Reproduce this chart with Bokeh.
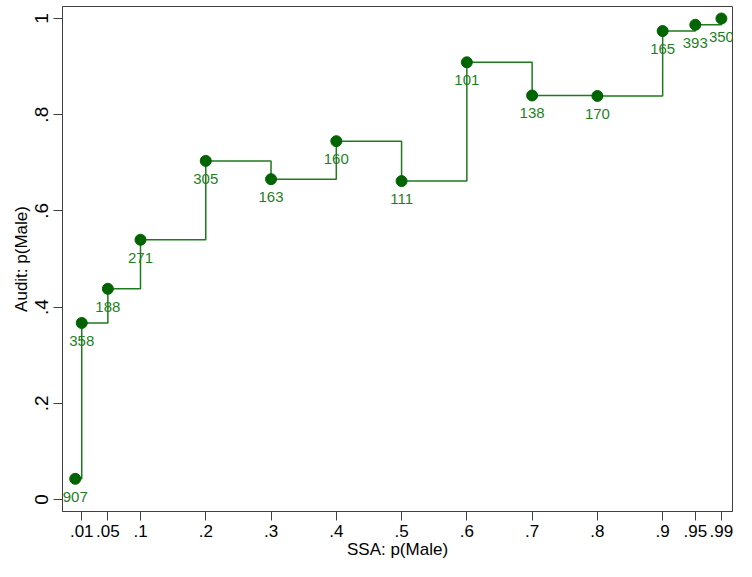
from bokeh.plotting import figure
from bokeh.models import ColumnDataSource, FixedTicker, Range1d, LabelSet
from bokeh.core.properties import value
from bokeh.embed import file_html
from bokeh.resources import INLINE

# Data
ssa_p = [0.0, 0.01, 0.05, 0.1, 0.2, 0.3, 0.4, 0.5, 0.6, 0.7, 0.8, 0.9, 0.95, 0.99]
audit_p = [0.043, 0.367, 0.438, 0.540, 0.704, 0.666, 0.745, 0.662, 0.909, 0.840, 0.839, 0.974, 0.987, 1.0]
counts = ["907", "358", "188", "271", "305", "163", "160", "111", "101", "138", "170", "165", "393", "350"]

x_ticks = [0.01, 0.05, 0.1, 0.2, 0.3, 0.4, 0.5, 0.6, 0.7, 0.8, 0.9, 0.95, 0.99]
x_tick_labels = [".01", ".05", ".1", ".2", ".3", ".4", ".5", ".6", ".7", ".8", ".9", ".95", ".99"]
y_ticks = [0.0, 0.2, 0.4, 0.6, 0.8, 1.0]
y_tick_labels = ["0", ".2", ".4", ".6", ".8", "1"]

FONT = "Liberation Sans"
DOT = "#006400"
LINE = "#1d7a1d"
TXT = "#1f7f1f"

src = ColumnDataSource(dict(x=ssa_p, y=audit_p, n=counts))

p = figure(width=736, height=561, output_backend="svg", toolbar_location=None,
           x_range=Range1d(-0.0195, 1.007), y_range=Range1d(-0.025, 1.025),
           min_border_left=62, min_border_top=6, min_border_right=4, min_border_bottom=50)

p.step("x", "y", source=src, mode="after", line_color=LINE, line_width=1.5)
p.scatter("x", "y", source=src, size=11, fill_color=DOT, line_color=DOT)

labels = LabelSet(x="x", y="y", text="n", source=src, text_align="center",
                  text_baseline="middle", y_offset=-18, text_color=TXT,
                  text_font=value(FONT), text_font_size="15px")
p.add_layout(labels)

p.xgrid.visible = False
p.ygrid.visible = False
p.outline_line_color = "#404040"
p.outline_line_width = 1
p.background_fill_color = "white"
p.border_fill_color = "white"

p.xaxis.ticker = FixedTicker(ticks=x_ticks)
p.xaxis.major_label_overrides = {t: l for t, l in zip(x_ticks, x_tick_labels)}
p.yaxis.ticker = FixedTicker(ticks=y_ticks)
p.yaxis.major_label_overrides = {t: l for t, l in zip(y_ticks, y_tick_labels)}
p.yaxis.major_label_orientation = "vertical"

for ax in (p.xaxis, p.yaxis):
    ax.axis_line_color = "#404040"
    ax.major_tick_line_color = "#404040"
    ax.major_tick_out = 9
    ax.major_tick_in = 0
    ax.minor_tick_line_color = None
    ax.major_label_text_font = FONT
    ax.major_label_text_font_size = "17px"
    ax.major_label_text_color = "black"
    ax.axis_label_text_font = FONT
    ax.axis_label_text_font_size = "17px"
    ax.axis_label_text_font_style = "normal"
    ax.axis_label_text_color = "black"

p.yaxis.major_label_text_font_size = "19px"
p.xaxis.axis_label = "SSA: p(Male)"
p.yaxis.axis_label = "Audit: p(Male)"
p.xaxis.major_label_standoff = 4
p.xaxis.axis_label_standoff = 0
p.yaxis.major_label_standoff = 5
p.yaxis.axis_label_standoff = 2

open("out.html", "w").write(file_html(p, INLINE))
